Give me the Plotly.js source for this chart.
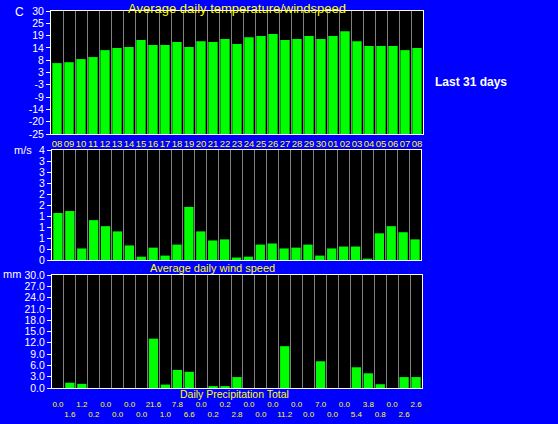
<!DOCTYPE html>
<html>
<head>
<meta charset="utf-8">
<script src="https://cdn.plot.ly/plotly-3.0.1.min.js"></script>
<style>
  html, body { margin: 0; padding: 0; background: #0000ff; }
  #chart { width: 558px; height: 424px; }
</style>
</head>
<body>
<div id="chart"></div>
<script>
// ---- data ----
const days = ["08","09","10","11","12","13","14","15","16","17","18","19","20","21","22","23","24","25","26","27","28","29","30","01","02","03","04","05","06","07","08"];
const temps = [6.7, 7.1, 8.5, 9.4, 12.5, 13.4, 13.9, 17.0, 14.8, 14.8, 16.1, 13.9, 16.5, 16.1, 17.5, 15.2, 18.3, 18.8, 19.7, 17.0, 17.5, 18.8, 17.5, 18.8, 21.0, 16.5, 14.3, 14.3, 14.3, 12.5, 13.4];
const wind = [1.71, 1.78, 0.42, 1.45, 1.23, 1.04, 0.53, 0.12, 0.45, 0.16, 0.56, 1.93, 1.04, 0.71, 0.75, 0.09, 0.12, 0.56, 0.60, 0.42, 0.45, 0.56, 0.16, 0.42, 0.49, 0.49, 0.05, 0.97, 1.23, 1.01, 0.75];
const rainBars = [0, 1.4, 1.1, 0, 0, 0, 0, 0, 13.1, 0.9, 4.8, 4.3, 0, 0.5, 0.5, 2.9, 0, 0, 0, 11.1, 0, 0, 7.1, 0, 0, 5.5, 3.9, 1.0, 0, 2.9, 2.9];
const rainLabels = ["0.0","1.6","1.2","0.2","0.0","0.0","0.0","0.0","21.6","1.0","7.8","6.6","0.0","0.2","0.2","2.8","0.0","0.0","0.0","11.2","0.0","0.0","7.0","0.0","0.0","5.4","3.8","0.8","0.0","2.6","2.6"];
const tempTickVals = [-25, -19.5, -14, -8.5, -3, 2.5, 8, 13.5, 19, 24.5, 30];
const tempTickText = ["-25","-20","-14","-9","-3","3","8","14","19","25","30"];
const windTickVals = [0, 0.4, 0.8, 1.2, 1.6, 2.0, 2.4, 2.8, 3.2, 3.6, 4.0];
const windTickText = ["0","0","1","1","1","2","2","3","3","3","4"];
const tempMin = -25, tempMax = 30;

// ---- build ----
const idx = days.map((d, i) => i);
const bounds = days.concat([""]).map((d, i) => i - 0.5);
const W = 558, H = 424;
const FONT = "Liberation Sans, Arial, sans-serif";
const GREEN = "#00ff00", YELLOW = "#ffff00", WHITE = "#ffffff", GRID = "#808080";

const traces = [
  { type: "bar", x: idx, y: temps.map(t => t - tempMin), base: tempMin, xaxis: "x", yaxis: "y",
    marker: { color: GREEN, line: { width: 0 } }, width: 0.78, hoverinfo: "skip" },
  { type: "bar", x: idx, y: wind, xaxis: "x2", yaxis: "y2",
    marker: { color: GREEN, line: { width: 0 } }, width: 0.78, hoverinfo: "skip" },
  { type: "bar", x: idx, y: rainBars, xaxis: "x3", yaxis: "y3",
    marker: { color: GREEN, line: { width: 0 } }, width: 0.78, hoverinfo: "skip" }
];

function xax(domain, anchor, extra) {
  return Object.assign({
    domain: domain, anchor: anchor, range: [-0.5, idx.length - 0.5], fixedrange: true,
    showgrid: false, zeroline: false, showline: true, mirror: true, linecolor: WHITE, linewidth: 1,
    ticks: "", showticklabels: false,
    minor: { tickmode: "array", tickvals: bounds, showgrid: true, gridcolor: GRID, gridwidth: 1, ticks: "" }
  }, extra || {});
}
function yax(domain, anchor, extra) {
  return Object.assign({
    domain: domain, anchor: anchor, fixedrange: true,
    showgrid: false, zeroline: false, showline: true, mirror: true, linecolor: WHITE, linewidth: 1,
    ticks: "outside", ticklen: 4, tickcolor: WHITE, tickwidth: 1,
    tickfont: { family: FONT, size: 10.5, color: WHITE }
  }, extra || {});
}

const layout = {
  width: W, height: H,
  margin: { l: 0, r: 0, t: 0, b: 0, pad: 0 },
  paper_bgcolor: "#0000ff", plot_bgcolor: "#000000",
  showlegend: false, bargap: 0.2,
  font: { family: FONT, color: WHITE },
  xaxis: xax([51 / W, 423 / W], "y", {
    showticklabels: true, tickmode: "array", tickvals: idx, ticktext: days, tickangle: 0,
    ticks: "outside", ticklen: 1, tickcolor: "rgba(0,0,0,0)",
    tickfont: { family: FONT, size: 9.5, color: YELLOW }
  }),
  yaxis: yax([(H - 134) / H, (H - 11) / H], "x", {
    range: [tempMin, tempMax], tickmode: "array", tickvals: tempTickVals, ticktext: tempTickText
  }),
  xaxis2: xax([52 / W, 421 / W], "y2"),
  yaxis2: yax([(H - 260) / H, (H - 150) / H], "x2", {
    range: [0, 4], tickmode: "array", tickvals: windTickVals, ticktext: windTickText
  }),
  xaxis3: xax([52 / W, 422 / W], "y3", {
    showticklabels: true, tickmode: "array", tickvals: idx,
    ticktext: rainLabels.map((s, i) => (i % 2 === 0 ? s : "<br>" + s)), tickangle: 0,
    ticks: "outside", ticklen: 8, tickcolor: "rgba(0,0,0,0)",
    tickfont: { family: FONT, size: 8, color: YELLOW }
  }),
  yaxis3: yax([(H - 388) / H, (H - 275) / H], "x3", {
    range: [0, 30], tickmode: "linear", tick0: 0, dtick: 3, tickformat: ".1f"
  }),
  annotations: [
    { text: "Average daily temperature/windspeed", x: 237 / W, y: 1, yanchor: "top", borderpad: 0, font: { size: 13, color: YELLOW } },
    { text: "C", x: 19 / W, y: (H - 12) / H, font: { size: 12, color: WHITE } },
    { text: "<b>Last 31 days</b>", x: 471 / W, y: (H - 82) / H, font: { size: 12, color: WHITE } },
    { text: "m/s", x: 22.5 / W, y: (H - 150) / H, font: { size: 11, color: WHITE } },
    { text: "Average daily wind speed", x: 212 / W, y: (H - 268) / H, font: { size: 11, color: YELLOW } },
    { text: "mm", x: 11.5 / W, y: (H - 274) / H, font: { size: 11, color: WHITE } },
    { text: "Daily Precipitation Total", x: 234.5 / W, y: (H - 393.5) / H, borderpad: 0, font: { size: 10.5, color: YELLOW } }
  ].map(a => Object.assign({ xref: "paper", yref: "paper", showarrow: false, xanchor: "center", yanchor: "middle" }, a,
    { font: Object.assign({ family: FONT }, a.font) }))
};

Plotly.newPlot("chart", traces, layout, { displayModeBar: false, staticPlot: true });
</script>
</body>
</html>
